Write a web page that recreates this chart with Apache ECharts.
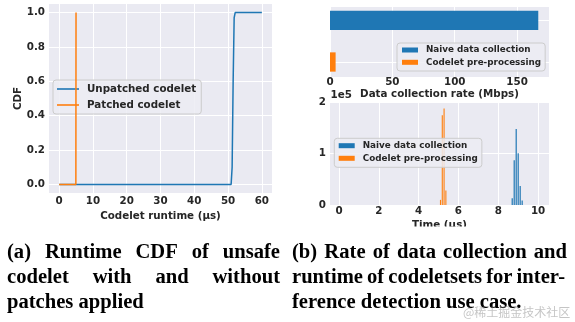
<!DOCTYPE html>
<html><head><meta charset="utf-8">
<script src="https://cdn.jsdelivr.net/npm/echarts@6/dist/echarts.min.js"></script>
<style>html,body{margin:0;padding:0;background:#fff}#c{width:575px;height:322px}</style>
</head><body><div id="c"></div>
<script>
// ---- data ----
const cdfUnpatched = [[0,0],[50.9,0],[51.2,0.1],[51.5,0.6],[51.8,0.97],[52.1,1],[60,1]];
const cdfPatched = [[0,0],[4.95,0],[5.0,1]];
const cdfXTicks = [0,10,20,30,40,50,60];
const cdfYTicks = [0,0.2,0.4,0.6,0.8,1.0];
const rateCategories = ['Naive data collection','Codelet pre-processing'];
const rateValues = [167, 4.5];
const rateTicks = [0,50,100,150];
const naiveTimes = [8.70, 8.80, 8.90, 9.00, 9.10, 9.20];
const naiveCounts = [13000, 87000, 148000, 101000, 37000, 9000];
const codeletTimes = [5.10, 5.19, 5.28, 5.37];
const codeletCounts = [10000, 175000, 188000, 28000];
const timeTicks = [0,2,4,6,8,10];
const countTicks = [0,100000,200000];
const captionA = ['(a) Runtime CDF of unsafe','codelet with and without','patches applied'];
const captionB = ['(b) Rate of data collection and','runtime of codeletsets for inter-','ference detection use case.'];
const watermark = '@稀土掘金技术社区';

const BLUE = '#1f77b4', ORANGE = '#ff7f0e', BG = '#EAEAF2', TXT = '#262626';
const FONT = 'DejaVu Sans';
const tickFont = {fontFamily: FONT, fontWeight: 'bold', fontSize: 10.3, color: TXT};
const split = {show: true, lineStyle: {color: '#fff', width: 1}};

const ctx = document.createElement('canvas').getContext('2d');
const capFont = 'bold 20.6px "Liberation Serif"';
ctx.font = capFont;
function lineEls(text, x0, x1, y, justify) {
  const words = text.split(' ');
  const widths = words.map(w => ctx.measureText(w).width);
  const total = widths.reduce((a, b) => a + b, 0);
  const gap = (justify && words.length > 1) ? (x1 - x0 - total) / (words.length - 1) : ctx.measureText(' ').width;
  let x = x0;
  return words.map((w, i) => {
    const el = {type: 'text', x: x, y: y, z: 110, style: {text: w, font: capFont, fill: '#000', align: 'left', verticalAlign: 'middle'}};
    x += widths[i] + gap;
    return el;
  });
}
const capY = [252.5, 278, 302.5];
let capEls = [];
captionA.forEach((t, i) => { capEls = capEls.concat(lineEls(t, 7, 280, capY[i], i < 2)); });
captionB.forEach((t, i) => { capEls = capEls.concat(lineEls(t, 292, i === 0 ? 567 : 565, capY[i], i < 2)); });

const legendText = (fs, lh) => ({fontFamily: FONT, fontWeight: 'bold', fontSize: fs, color: TXT, lineHeight: lh, padding: [0, 0, 0, 3]});

const chart = echarts.init(document.getElementById('c'), null, {renderer: 'canvas'});
chart.setOption({
  animation: false,
  grid: [
    {left: 49, top: 4, width: 223, height: 189, show: true, backgroundColor: BG, borderWidth: 0},
    {left: 330, top: 7, width: 219, height: 70, show: true, backgroundColor: BG, borderWidth: 0},
    {left: 330, top: 20.3, width: 219, height: 41.7},
    {left: 330, top: 102.3, width: 219, height: 102.7, show: true, backgroundColor: BG, borderWidth: 0}
  ],
  xAxis: [
    {gridIndex: 0, type: 'value', min: -3, max: 63, axisLine: {show: false}, axisTick: {show: false, customValues: cdfXTicks},
     axisLabel: Object.assign({customValues: cdfXTicks, margin: 3}, tickFont), splitLine: split,
     name: 'Codelet runtime (μs)', nameLocation: 'middle', nameGap: 13, nameTextStyle: tickFont},
    {gridIndex: 1, type: 'value', min: 0, max: 175.6, axisLine: {show: false}, axisTick: {show: false, customValues: rateTicks},
     axisLabel: Object.assign({customValues: rateTicks, margin: 0}, tickFont), splitLine: split,
     name: 'Data collection rate (Mbps)', nameLocation: 'middle', nameGap: 12, nameTextStyle: tickFont},
    {gridIndex: 2, type: 'value', min: 0, max: 175.6, show: false},
    {gridIndex: 3, type: 'value', min: -0.45, max: 10.55, axisLine: {show: false}, axisTick: {show: false, customValues: timeTicks},
     axisLabel: Object.assign({customValues: timeTicks, margin: 1}, tickFont), splitLine: split,
     name: 'Time (μs)', nameLocation: 'middle', nameGap: 15.5, nameTextStyle: tickFont}
  ],
  yAxis: [
    {gridIndex: 0, type: 'value', min: -0.05, max: 1.05, axisLine: {show: false}, axisTick: {show: false, customValues: cdfYTicks},
     axisLabel: Object.assign({customValues: cdfYTicks, margin: 4, formatter: v => v.toFixed(1)}, tickFont), splitLine: split,
     name: 'CDF', nameLocation: 'middle', nameGap: 16, nameTextStyle: tickFont},
    {gridIndex: 1, type: 'value', min: 0, max: 1, show: false},
    {gridIndex: 2, type: 'category', data: rateCategories, inverse: true, boundaryGap: false,
     axisLine: {show: false}, axisTick: {show: false}, axisLabel: {show: false}, splitLine: split},
    {gridIndex: 3, type: 'value', min: 0, max: 200000, axisLine: {show: false}, axisTick: {show: false, customValues: countTicks},
     axisLabel: Object.assign({customValues: countTicks, margin: 4, formatter: v => String(v / 100000)}, tickFont), splitLine: split}
  ],
  legend: [
    {data: ['Unpatched codelet', 'Patched codelet'], orient: 'vertical', left: 53, top: 80, icon: 'rect',
     itemWidth: 22, itemHeight: 1.6, itemGap: 4, padding: [3, 5, 3, 4], textStyle: legendText(10.3, 12),
     backgroundColor: 'rgba(236,236,243,0.85)', borderColor: '#cccccc', borderWidth: 1, borderRadius: 3, selectedMode: false},
    {data: rateCategories, orient: 'vertical', left: 397, top: 43, icon: 'rect',
     itemWidth: 16, itemHeight: 5, itemGap: 2.3, padding: [2, 4, 3.7, 5], textStyle: legendText(8.8, 10),
     backgroundColor: 'rgba(236,236,243,0.85)', borderColor: '#cccccc', borderWidth: 1, borderRadius: 3, selectedMode: false},
    {data: rateCategories, orient: 'vertical', left: 334.3, top: 138.3, icon: 'rect',
     itemWidth: 16, itemHeight: 5, itemGap: 2.6, padding: [2.4, 4, 4, 4.4], textStyle: legendText(8.8, 10),
     backgroundColor: 'rgba(236,236,243,0.85)', borderColor: '#cccccc', borderWidth: 1, borderRadius: 3, selectedMode: false}
  ],
  series: [
    {name: 'Unpatched codelet', type: 'line', xAxisIndex: 0, yAxisIndex: 0, data: cdfUnpatched, symbol: 'none', showSymbol: false,
     sampling: null, smooth: false, lineStyle: {color: BLUE, width: 1.5}, itemStyle: {color: BLUE}, z: 3},
    {name: 'Patched codelet', type: 'line', xAxisIndex: 0, yAxisIndex: 0, data: cdfPatched, symbol: 'none', showSymbol: false,
     lineStyle: {color: ORANGE, width: 1.5}, itemStyle: {color: ORANGE}, z: 4},
    {name: rateCategories[0], type: 'bar', xAxisIndex: 2, yAxisIndex: 2, data: [rateValues[0], '-'],
     barWidth: 19.3, barGap: '-100%', itemStyle: {color: BLUE}},
    {name: rateCategories[1], type: 'bar', xAxisIndex: 2, yAxisIndex: 2, data: ['-', rateValues[1]],
     barWidth: 19.3, barGap: '-100%', itemStyle: {color: ORANGE}},
    {name: rateCategories[0], type: 'bar', xAxisIndex: 3, yAxisIndex: 3, data: naiveTimes.map((t, i) => [t, naiveCounts[i]]),
     barWidth: 1.2, barGap: '-100%', itemStyle: {color: BLUE}},
    {name: rateCategories[1], type: 'bar', xAxisIndex: 3, yAxisIndex: 3, data: codeletTimes.map((t, i) => [t, codeletCounts[i]]),
     barWidth: 1.1, barGap: '-100%', itemStyle: {color: ORANGE}}
  ],
  graphic: [
    {type: 'text', x: 330.5, y: 95.7, z: 50, style: {text: '1e5', font: 'bold 10.3px "DejaVu Sans"', fill: TXT, align: 'left', verticalAlign: 'middle'}},
    {type: 'rect', shape: {x: 325, y: 226.5, width: 240, height: 12}, z: 100, style: {fill: '#fff'}},
    ...capEls,
    {type: 'text', x: 463, y: 312, z: 120, style: {text: watermark, font: '12px "Noto Sans CJK SC"', fill: 'rgba(150,150,150,0.55)', align: 'left', verticalAlign: 'middle'}}
  ]
});
</script></body></html>
